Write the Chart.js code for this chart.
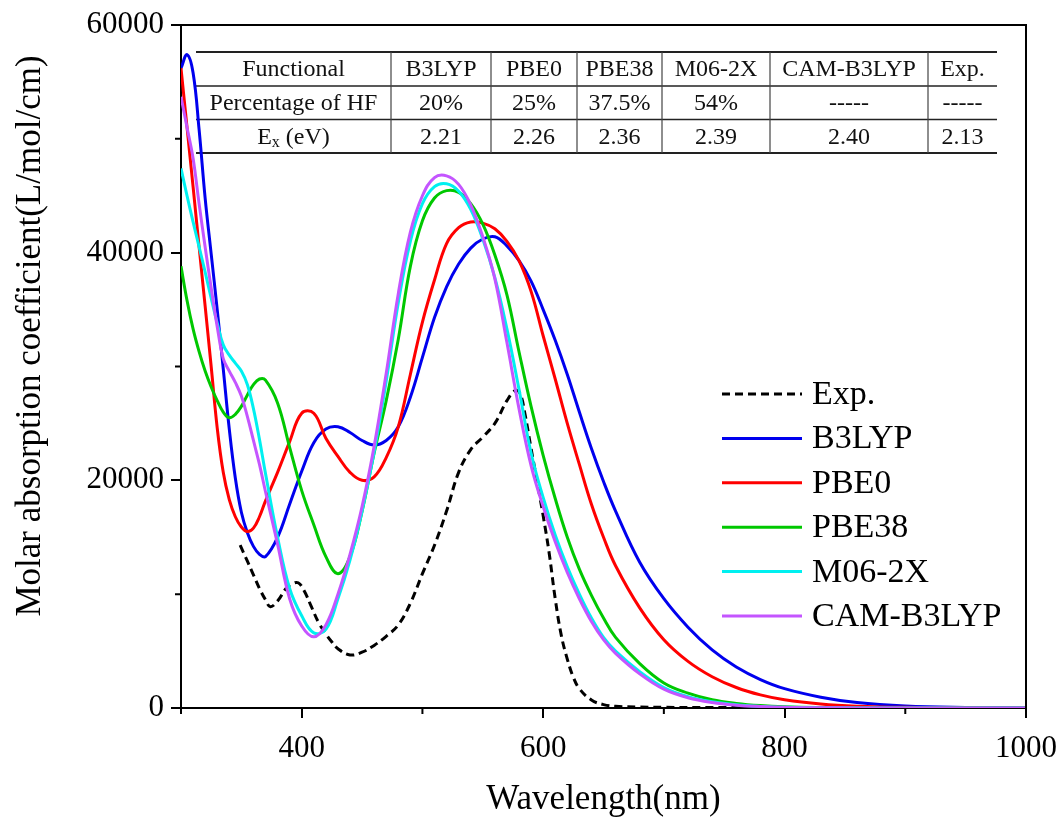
<!DOCTYPE html>
<html>
<head>
<meta charset="utf-8">
<title>Molar absorption spectra</title>
<script src="https://cdn.jsdelivr.net/npm/chart.js@4.4.1/dist/chart.umd.min.js"></script>
<style>
  html, body { margin: 0; padding: 0; background: #fff; }
  #wrap { width: 1062px; height: 821px; }
</style>
</head>
<body>
<div id="wrap"><canvas id="spectra" width="1062" height="821"></canvas></div>
<script>
// wavelength grid (nm) shared by the computed spectra
const wavelengths = [300, 305, 310, 315, 320, 325, 330, 335, 340, 345, 350, 355, 360, 365, 370,
  380, 390, 400, 410, 420, 430, 440, 450, 460, 470, 480, 490, 500, 510, 520, 530, 540, 550, 560,
  570, 580, 590, 600, 610, 620, 630, 640, 650, 660, 680, 700, 720, 740, 760, 780, 800,
  830, 860, 900, 950, 1000];

const b3lyp = [56200, 57400, 55800, 50800, 44800, 39900, 35000, 29800, 24500, 20200, 17200, 15400, 14200, 13500, 13300,
  15000, 17900, 20800, 23300, 24500, 24700, 24200, 23500, 23100, 23500, 24700, 27300, 30800, 34300, 37000, 39000, 40400, 41200, 41400,
  40600, 39300, 37500, 35000, 32300, 29300, 26000, 22800, 19900, 17300, 12800, 9600, 7100, 5100, 3600, 2500, 1700,
  950, 480, 180, 50, 10];

const pbe0 = [56200, 51000, 45800, 40500, 35300, 30000, 24600, 20700, 18300, 16800, 15900, 15500, 15800, 16800, 18200,
  20700, 23400, 25900, 25900, 23700, 22100, 20700, 20000, 20300, 22000, 24700, 29300, 33900, 37600, 40800, 42200, 42700, 42600, 42100,
  41000, 39300, 36600, 32700, 28900, 25000, 21400, 17900, 15000, 12500, 8800, 6000, 4100, 2750, 1800, 1150, 720,
  350, 160, 55, 15, 3];

const pbe38 = [38800, 35800, 33300, 31300, 29600, 28200, 27000, 26000, 25500, 25800, 26500, 27500, 28400, 28900, 28800,
  26800, 22900, 19100, 16100, 13300, 11800, 13300, 17300, 22400, 27000, 32400, 38800, 42800, 44800, 45450, 45300, 44300, 42500, 39800,
  36300, 31300, 26500, 22200, 18400, 15000, 12200, 9900, 7900, 6200, 3900, 2200, 1300, 720, 400, 210, 110,
  45, 18, 5, 0, 0];

const m062x = [47400, 45000, 42700, 40500, 38300, 36000, 33800, 31900, 31000, 30300, 29600, 28400, 26300, 23600, 20600,
  15000, 10500, 8100, 6600, 6900, 9600, 13000, 17300, 22500, 28700, 35600, 41000, 44300, 45800, 46050, 45400, 43800, 41200, 37800,
  33300, 28000, 22400, 18500, 15200, 12400, 10000, 7900, 6200, 5000, 3200, 1800, 1000, 550, 280, 140, 70,
  25, 10, 3, 0, 0];

const camB3lyp = [53700, 51000, 48300, 44300, 40500, 36900, 33500, 30700, 29600, 28600, 27400, 25600, 23500, 21400, 19000,
  14400, 9600, 7200, 6250, 7300, 10000, 13500, 17700, 23000, 29400, 36400, 41800, 45000, 46600, 46750, 46000, 44200, 41400, 37700,
  32100, 26300, 21300, 17700, 14600, 11900, 9600, 7600, 6000, 4800, 3000, 1650, 900, 480, 250, 130, 60,
  20, 8, 2, 0, 0];

// experimental spectrum
const expWavelengths = [349, 355, 360, 365, 370, 374, 380, 387, 392, 397, 402, 408, 414, 420, 425, 430, 440, 450, 460, 470,
  480, 490, 500, 510, 520, 530, 540, 550, 560, 570, 577, 581, 585, 590, 595, 600, 605, 610, 615, 620,
  625, 630, 640, 650, 660, 680, 700, 740, 780];
const expValues = [14300, 12900, 11700, 10500, 9500, 8900, 9400, 10500, 10900, 11000, 10300, 8900, 7500, 6500, 5800, 5200, 4660, 4900, 5500, 6300,
  7300, 9200, 11800, 14300, 17300, 20700, 22700, 23800, 25000, 27000, 27900, 27600, 25800, 22800, 19900, 16900, 13600, 9600, 6400, 4300,
  2700, 1700, 700, 300, 150, 80, 60, 40, 30];

const xMajor = [400, 600, 800, 1000];
const xMinor = [300, 500, 700, 900];
const yMajor = [0, 20000, 40000, 60000];
const yMinor = [10000, 30000, 50000];

// inset table
const tableHead = ['Functional', 'B3LYP', 'PBE0', 'PBE38', 'M06-2X', 'CAM-B3LYP', 'Exp.'];
const hfPercent = ['Percentage of HF', '20%', '25%', '37.5%', '54%', '-----', '-----'];
const excitation = ['E_x (eV)', '2.21', '2.26', '2.36', '2.39', '2.40', '2.13'];

const serif = "'Liberation Serif', 'DejaVu Serif', serif";

function series(xs, ys) {
  return xs.map((x, i) => ({ x: x, y: ys[i] }));
}

function drawCell(ctx, text, cx, cy) {
  if (text.startsWith('E_x')) {
    const rest = text.slice(3);
    ctx.font = '24px ' + serif;
    const wE = ctx.measureText('E').width;
    const wR = ctx.measureText(rest).width;
    ctx.font = '16px ' + serif;
    const wX = ctx.measureText('x').width;
    let left = cx - (wE + wX + wR) / 2;
    ctx.textAlign = 'left';
    ctx.font = '24px ' + serif;
    ctx.fillText('E', left, cy);
    ctx.font = '16px ' + serif;
    ctx.fillText('x', left + wE, cy + 6);
    ctx.font = '24px ' + serif;
    ctx.fillText(rest, left + wE + wX, cy);
    ctx.textAlign = 'center';
    return;
  }
  ctx.fillText(text, cx, cy);
}

function drawTable(ctx) {
  const cols = [196, 391, 491, 577, 662, 770, 928, 997];
  const rows = [52, 86, 119.5, 153];
  ctx.save();
  ctx.strokeStyle = '#222';
  rows.forEach((ry, i) => {
    ctx.lineWidth = (i === 0 || i === rows.length - 1) ? 2.2 : 1.6;
    ctx.beginPath();
    ctx.moveTo(cols[0], ry);
    ctx.lineTo(cols[cols.length - 1], ry);
    ctx.stroke();
  });
  ctx.lineWidth = 1.2;
  ctx.strokeStyle = '#444';
  ctx.beginPath();
  for (let c = 1; c < cols.length - 1; c++) {
    ctx.moveTo(cols[c], rows[0]);
    ctx.lineTo(cols[c], rows[rows.length - 1]);
  }
  ctx.stroke();
  ctx.fillStyle = '#111';
  ctx.textAlign = 'center';
  ctx.textBaseline = 'middle';
  ctx.font = '24px ' + serif;
  [tableHead, hfPercent, excitation].forEach((row, r) => {
    const cy = (rows[r] + rows[r + 1]) / 2 + 1;
    row.forEach((txt, c) => {
      drawCell(ctx, txt, (cols[c] + cols[c + 1]) / 2, cy);
    });
  });
  ctx.restore();
}

const decor = {
  id: 'decor',
  beforeDatasetsDraw(chart) {
    drawTable(chart.ctx);
  },
  afterDraw(chart) {
    const { ctx, chartArea: a, scales: { x, y } } = chart;
    ctx.save();
    ctx.strokeStyle = '#000';
    ctx.lineWidth = 2;
    ctx.beginPath();
    ctx.moveTo(a.left, a.top);
    ctx.lineTo(a.right, a.top);
    ctx.lineTo(a.right, a.bottom);
    xMinor.forEach(v => {
      const px = x.getPixelForValue(v);
      ctx.moveTo(px, a.bottom);
      ctx.lineTo(px, a.bottom + 6);
    });
    yMinor.forEach(v => {
      const py = y.getPixelForValue(v);
      ctx.moveTo(a.left, py);
      ctx.lineTo(a.left - 6, py);
    });
    ctx.stroke();

    // y axis title
    ctx.fillStyle = '#000';
    ctx.font = '35px ' + serif;
    ctx.textAlign = 'center';
    ctx.textBaseline = 'middle';
    ctx.translate(31, 336);
    ctx.rotate(-Math.PI / 2);
    ctx.fillText('Molar absorption coefficient(L/mol/cm)', 0, 0);
    ctx.setTransform(1, 0, 0, 1, 0, 0);

    // legend inside the plot
    ctx.font = '34px ' + serif;
    ctx.textAlign = 'left';
    chart.data.datasets.forEach((ds, i) => {
      const ly = 394 + i * 44.4;
      ctx.strokeStyle = ds.borderColor;
      ctx.lineWidth = 3;
      ctx.setLineDash(ds.borderDash || []);
      ctx.beginPath();
      ctx.moveTo(722, ly);
      ctx.lineTo(802, ly);
      ctx.stroke();
      ctx.setLineDash([]);
      ctx.fillText(ds.label, 812, ly + 1);
    });
    ctx.restore();
  }
};

Chart.defaults.font.family = serif;
Chart.defaults.color = '#000';

const chart = new Chart(document.getElementById('spectra'), {
  type: 'line',
  data: {
    datasets: [
      { label: 'Exp.', data: series(expWavelengths, expValues), borderColor: '#000', borderDash: [8, 5], order: 6 },
      { label: 'B3LYP', data: series(wavelengths, b3lyp), borderColor: '#0000ee', order: 5 },
      { label: 'PBE0', data: series(wavelengths, pbe0), borderColor: '#ff0000', order: 4 },
      { label: 'PBE38', data: series(wavelengths, pbe38), borderColor: '#00c800', order: 3 },
      { label: 'M06-2X', data: series(wavelengths, m062x), borderColor: '#00f0f0', order: 2 },
      { label: 'CAM-B3LYP', data: series(wavelengths, camB3lyp), borderColor: '#c455ff', order: 1 }
    ]
  },
  options: {
    responsive: false,
    animation: false,
    layout: { padding: { top: 25, right: 36, left: 0, bottom: 0 } },
    elements: {
      point: { radius: 0 },
      line: { borderWidth: 3, tension: 0.4, fill: false }
    },
    scales: {
      x: {
        type: 'linear', min: 300, max: 1000,
        afterBuildTicks: s => { s.ticks = xMajor.map(v => ({ value: v })); },
        afterFit: s => { s.height = 113; s.paddingLeft = 0; s.paddingRight = 0; },
        ticks: { autoSkip: false, maxRotation: 0, padding: 12, font: { size: 31 }, callback: v => String(v) },
        grid: { drawOnChartArea: false, tickLength: 10, color: '#000', lineWidth: 2 },
        border: { color: '#000', width: 2 },
        title: { display: true, text: 'Wavelength(nm)', font: { size: 35 }, padding: { top: 0, bottom: 0 } }
      },
      y: {
        type: 'linear', min: 0, max: 60000,
        afterBuildTicks: s => { s.ticks = yMajor.map(v => ({ value: v })); },
        afterFit: s => { s.width = 181; s.paddingTop = 0; s.paddingBottom = 0; },
        ticks: { autoSkip: false, padding: 7, font: { size: 31 }, callback: v => String(v) },
        grid: { drawOnChartArea: false, tickLength: 10, color: '#000', lineWidth: 2 },
        border: { color: '#000', width: 2 }
      }
    },
    plugins: {
      legend: { display: false },
      tooltip: { enabled: false }
    }
  },
  plugins: [decor]
});
</script>
</body>
</html>
